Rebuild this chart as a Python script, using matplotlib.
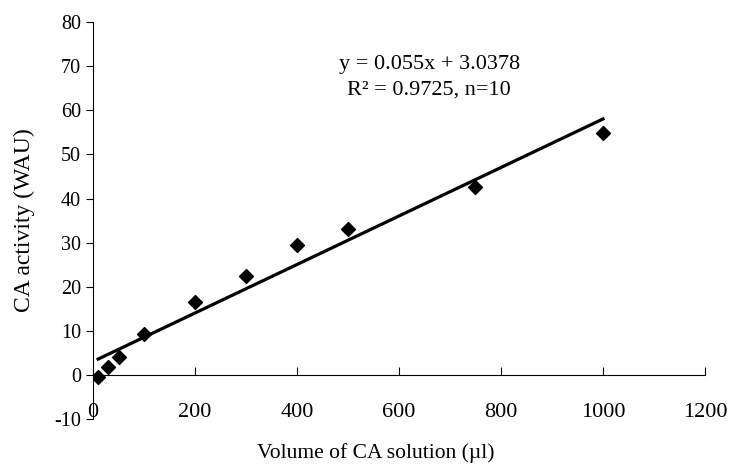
import numpy as np
import matplotlib.pyplot as plt

plt.rcParams['font.family'] = ['Liberation Serif', 'DejaVu Serif']
plt.rcParams['axes.unicode_minus'] = False

# data
volume = [10, 30, 50, 100, 200, 300, 400, 500, 750, 1000]
activity = [-0.5, 1.8, 4.0, 9.2, 16.5, 22.5, 29.5, 33.0, 42.5, 54.8]
slope, intercept = 0.055, 3.0378
xticks = [0, 200, 400, 600, 800, 1000, 1200]
yticks = [-10, 0, 10, 20, 30, 40, 50, 60, 70, 80]

fig = plt.figure(figsize=(7.29, 4.71), dpi=100)
ax = fig.add_axes([0.1276, 0.1104, 0.967 - 0.1276, 0.953 - 0.1104])

ax.scatter(volume, activity, marker='D', s=50, color='black', zorder=3)
xfit = np.array([min(volume), max(volume)])
ax.plot(xfit, slope * xfit + intercept, color='black', lw=2.3)

ax.set_xlim(0, 1200)
ax.set_ylim(-10, 80)
ax.set_xticks(xticks)
ax.set_yticks(yticks)

ax.spines['top'].set_visible(False)
ax.spines['right'].set_visible(False)
ax.spines['bottom'].set_position(('data', 0))
ax.tick_params(axis='x', direction='in', length=6, pad=20, labelsize=16)
ax.tick_params(axis='y', direction='out', length=5, labelsize=14.5)

ax.set_ylabel('CA activity (WAU)', fontsize=17, labelpad=14)
fig.text(0.515, 0.038, 'Volume of CA solution (\u00b5l)', ha='center', va='center', fontsize=15.5)

ax.text(659, 70.5, 'y = 0.055x + 3.0378', ha='center', va='center', fontsize=16)
ax.text(659, 64.6, 'R\u00b2 = 0.9725, n=10', ha='center', va='center', fontsize=16)

fig.savefig('out.png', dpi=100)
